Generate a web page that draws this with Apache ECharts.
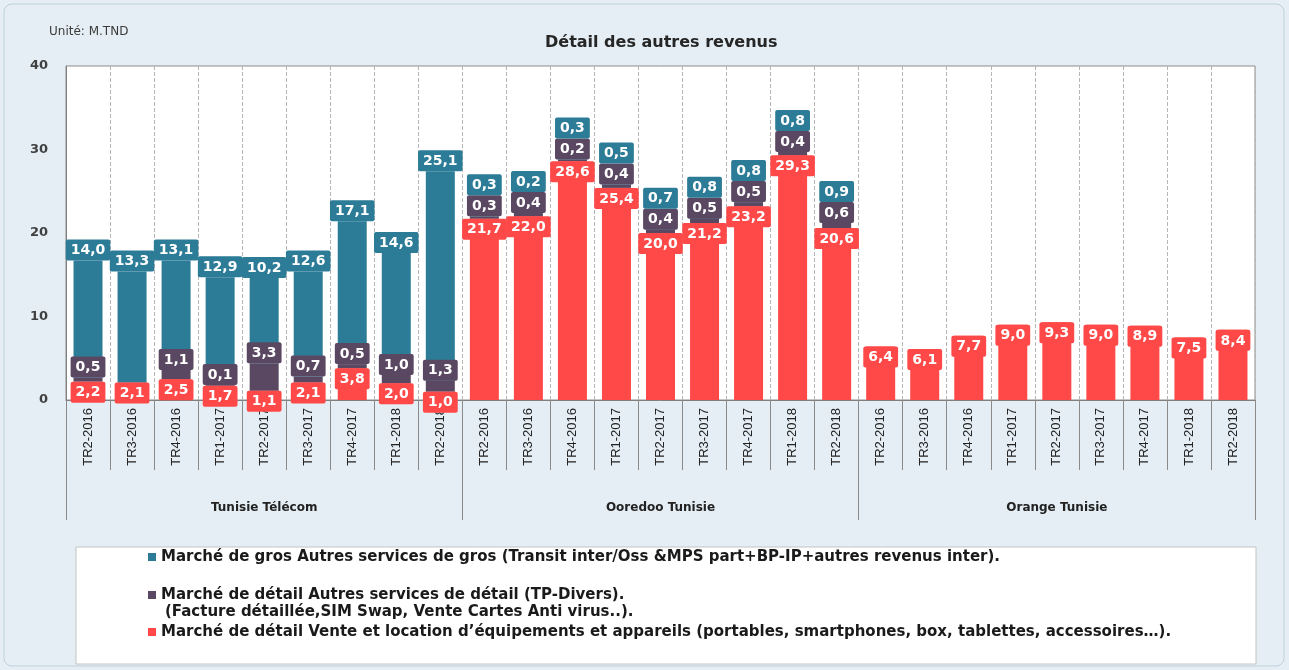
<!DOCTYPE html>
<html>
<head>
<meta charset="utf-8">
<script src="https://cdn.jsdelivr.net/npm/echarts@6/dist/echarts.min.js"></script>
<style>
  html, body { margin: 0; padding: 0; background: #fff; }
  #chart { width: 1289px; height: 670px; }
</style>
</head>
<body>
<div id="chart"></div>
<script>
// trimestres (repetes pour chaque operateur)
var periodes = ['TR2-2016', 'TR3-2016', 'TR4-2016', 'TR1-2017', 'TR2-2017', 'TR3-2017', 'TR4-2017', 'TR1-2018', 'TR2-2018'];
var operateurs = ['Tunisie Télécom', 'Ooredoo Tunisie', 'Orange Tunisie'];

// Marché de gros - autres services
var grosTT      = [14.0, 13.3, 13.1, 12.9, 10.2, 12.6, 17.1, 14.6, 25.1];
var grosOoredoo = [0.3, 0.2, 0.3, 0.5, 0.7, 0.8, 0.8, 0.8, 0.9];
var grosOrange  = [null, null, null, null, null, null, null, null, null];

// Marché de détail - autres services (TP-Divers)
var detailTT      = [0.5, null, 1.1, 0.1, 3.3, 0.7, 0.5, 1.0, 1.3];
var detailOoredoo = [0.3, 0.4, 0.2, 0.4, 0.4, 0.5, 0.5, 0.4, 0.6];
var detailOrange  = [null, null, null, null, null, null, null, null, null];

// Marché de détail - vente et location d'équipements
var equipTT      = [2.2, 2.1, 2.5, 1.7, 1.1, 2.1, 3.8, 2.0, 1.0];
var equipOoredoo = [21.7, 22.0, 28.6, 25.4, 20.0, 21.2, 23.2, 29.3, 20.6];
var equipOrange  = [6.4, 6.1, 7.7, 9.0, 9.3, 9.0, 8.9, 7.5, 8.4];

var nomGros = 'Marché de gros Autres services de gros (Transit inter/Oss &MPS part+BP-IP+autres revenus inter).';
var nomDetail = 'Marché de détail Autres services de détail (TP-Divers).';
var nomDetail2 = '(Facture détaillée,SIM Swap, Vente Cartes Anti virus..).';
var nomEquip = 'Marché de détail Vente et location d\u2019équipements et appareils (portables, smartphones, box, tablettes, accessoires\u2026).';

var couleurGros = '#2D7C97';
var couleurDetail = '#5A4862';
var couleurEquip = '#FF4949';

var categories = periodes.concat(periodes, periodes);
var gros = grosTT.concat(grosOoredoo, grosOrange);
var detail = detailTT.concat(detailOoredoo, detailOrange);
var equip = equipTT.concat(equipOoredoo, equipOrange);

function fmt(p) {
  return p.value.toFixed(1).replace('.', ',');
}

function etiquette(pos, bg) {
  return {
    show: true,
    position: pos,
    distance: 0,
    formatter: fmt,
    color: '#fff',
    fontFamily: 'DejaVu Sans',
    fontWeight: 'bold',
    fontSize: 14,
    backgroundColor: bg,
    borderRadius: 2,
    padding: [4, 5, 3, 5]
  };
}

var legendText = {
  color: '#1a1a1a',
  fontFamily: 'DejaVu Sans',
  fontWeight: 'bold',
  fontSize: 15,
  lineHeight: 18
};

var chart = echarts.init(document.getElementById('chart'));
var option = {
  backgroundColor: '#E4EEF4',
  animation: false,
  title: [{
    text: 'Détail des autres revenus',
    left: 540,
    top: 30,
    textStyle: { fontFamily: 'DejaVu Sans', fontWeight: 'bold', fontSize: 16, color: '#262626' }
  }, {
    text: 'Unité: M.TND',
    left: 44,
    top: 21,
    textStyle: { fontFamily: 'DejaVu Sans', fontWeight: 'normal', fontSize: 12, color: '#3a3a3a' }
  }],
  graphic: [{
    type: 'rect',
    z: -10,
    shape: { x: 4, y: 4, width: 1280, height: 662, r: 8 },
    style: { fill: 'none', stroke: '#bfd0dc', lineWidth: 1 }
  }, {
    type: 'rect',
    z: -5,
    shape: { x: 76, y: 547, width: 1180, height: 117 },
    style: { fill: '#ffffff', stroke: '#c4c4c4', lineWidth: 1 }
  }, {
    type: 'text',
    left: 165,
    top: 605,
    style: { text: nomDetail2, fill: '#1a1a1a', font: 'bold 15px "DejaVu Sans"' }
  }],
  legend: [{
    data: [nomGros], left: 148, top: 548, padding: 0, icon: 'rect',
    itemWidth: 8, itemHeight: 8, selectedMode: false, textStyle: legendText
  }, {
    data: [nomDetail], left: 148, top: 586, padding: 0, icon: 'rect',
    itemWidth: 8, itemHeight: 8, selectedMode: false, textStyle: legendText
  }, {
    data: [nomEquip], left: 148, top: 623, padding: 0, icon: 'rect',
    itemWidth: 8, itemHeight: 8, selectedMode: false, textStyle: legendText
  }],
  grid: {
    left: 66, right: 34, top: 66, bottom: 270,
    show: true, backgroundColor: '#ffffff', borderColor: '#8c8c8c', borderWidth: 1
  },
  xAxis: [{
    type: 'category',
    data: categories,
    position: 'bottom',
    axisLine: { lineStyle: { color: '#808080' } },
    axisTick: { show: true, interval: 0, length: 70, lineStyle: { color: '#8a8a8a' } },
    axisLabel: {
      interval: 0, rotate: 90, margin: 8,
      fontFamily: 'Liberation Sans', fontSize: 13, color: '#222'
    },
    splitLine: { show: true, interval: 0, lineStyle: { color: '#b5b5b5', type: 'dashed' } }
  }, {
    type: 'category',
    data: operateurs,
    position: 'bottom',
    axisLine: { show: false },
    axisTick: { show: true, interval: 0, length: 120, lineStyle: { color: '#8a8a8a' } },
    axisLabel: {
      interval: 0, margin: 102,
      fontFamily: 'DejaVu Sans', fontWeight: 'bold', fontSize: 12, color: '#222'
    },
    splitLine: { show: false }
  }],
  yAxis: {
    type: 'value',
    min: 0, max: 40, interval: 10,
    axisLine: { show: true, lineStyle: { color: '#808080' } },
    axisTick: { show: false },
    splitLine: { show: false },
    axisLabel: { margin: 18, fontFamily: 'DejaVu Sans', fontWeight: 'bold', fontSize: 13, color: '#404040' }
  },
  series: [{
    name: nomEquip,
    type: 'bar',
    stack: 'revenus',
    barWidth: 29,
    data: equip,
    itemStyle: { color: couleurEquip },
    label: etiquette('insideTop', couleurEquip)
  }, {
    name: nomDetail,
    type: 'bar',
    stack: 'revenus',
    barWidth: 29,
    data: detail,
    itemStyle: { color: couleurDetail },
    label: etiquette('top', couleurDetail)
  }, {
    name: nomGros,
    type: 'bar',
    stack: 'revenus',
    barWidth: 29,
    data: gros,
    itemStyle: { color: couleurGros },
    label: etiquette('top', couleurGros),
    // tiny segments: lift the label above the one of the segment below
    labelLayout: function (p) {
      var h = p.labelRect.height;
      if (p.rect.height < h) {
        return { dy: -(h - p.rect.height) };
      }
      return {};
    }
  }]
};
chart.setOption(option);
</script>
</body>
</html>
